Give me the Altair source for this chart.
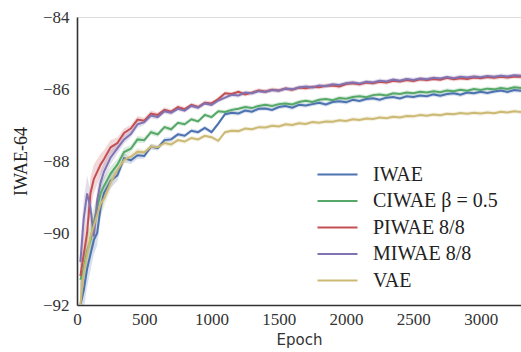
import altair as alt
import pandas as pd

epochs = [25, 50, 75, 100, 125, 150, 175,
          200, 250, 300, 350, 400, 450, 500, 550, 600, 650, 700, 750, 800, 850, 900, 950,
          1000, 1050, 1100, 1150, 1200, 1250, 1300, 1350, 1400, 1450, 1500, 1550, 1600, 1650,
          1700, 1750, 1800, 1850, 1900, 1950, 2000, 2050, 2100, 2150, 2200, 2250, 2300, 2350,
          2400, 2450, 2500, 2550, 2600, 2650, 2700, 2750, 2800, 2850, 2900, 2950, 3000, 3050,
          3100, 3150, 3200, 3250, 3300]

iwae = [-92.0, -91.6, -91.0, -90.6, -90.2, -90.0, -89.3,
        -88.9, -88.55, -88.4, -87.92, -87.98, -87.84, -87.86, -87.6, -87.64, -87.42, -87.4, -87.26, -87.3, -87.16, -87.2, -87.08,
        -87.2, -86.96,
        -86.7, -86.66, -86.68, -86.6, -86.63, -86.55, -86.54, -86.58, -86.5, -86.47,
        -86.52, -86.44, -86.46, -86.42, -86.38, -86.43, -86.36, -86.34, -86.37, -86.3,
        -86.33, -86.28, -86.26, -86.3, -86.24, -86.22, -86.26, -86.2, -86.22, -86.18,
        -86.2, -86.15, -86.19, -86.14, -86.12, -86.16, -86.1, -86.12, -86.08, -86.11,
        -86.07, -86.04, -86.08, -86.03, -86.05]

ciwae = [-91.3, -91.0, -90.5, -90.2, -89.7, -89.3, -88.9,
         -88.7, -88.35, -88.1, -87.75, -87.66, -87.4, -87.42, -87.2, -87.26, -87.06, -87.12, -86.94, -86.98, -86.84, -86.9, -86.72,
         -86.78, -86.62,
         -86.64, -86.58, -86.55, -86.5, -86.53, -86.47, -86.44, -86.47, -86.42, -86.4,
         -86.43, -86.36, -86.33, -86.36, -86.3, -86.28, -86.31, -86.25, -86.27, -86.22,
         -86.2, -86.23, -86.17, -86.15, -86.18, -86.12, -86.14, -86.1, -86.12, -86.08,
         -86.1, -86.06, -86.09, -86.04, -86.06, -86.02, -86.05, -86.0, -86.03, -85.99,
         -86.01, -85.97, -86.0, -85.95, -85.97]

piwae = [-91.2, -90.6, -90.0, -88.9, -88.5, -88.3, -88.1,
         -87.95, -87.62, -87.5, -87.22, -87.1, -86.85, -86.88, -86.68, -86.72, -86.58, -86.63, -86.5, -86.56, -86.44, -86.5, -86.38,
         -86.4, -86.28,
         -86.12, -86.14, -86.08, -86.15, -86.1, -86.04, -86.07, -86.02, -86.04, -85.99,
         -86.02, -85.96, -85.98, -85.94, -85.95, -85.91, -85.9, -85.93, -85.86, -85.84,
         -85.87, -85.82, -85.84, -85.8, -85.82, -85.77, -85.79, -85.75, -85.78, -85.73,
         -85.75, -85.72, -85.74, -85.69, -85.73, -85.7, -85.72, -85.68, -85.7, -85.67,
         -85.69, -85.66, -85.68, -85.65, -85.66]

miwae = [-90.8, -89.6, -88.9, -89.3, -90.1, -89.1, -88.6,
         -88.3, -87.9, -87.65, -87.4, -87.25, -86.98, -86.92, -86.74, -86.78, -86.62, -86.66, -86.55, -86.6, -86.47, -86.52, -86.4,
         -86.44, -86.32,
         -86.24, -86.16, -86.18, -86.1, -86.12, -86.06, -86.08, -86.03, -86.05, -85.99,
         -86.01, -85.96, -85.93, -85.96, -85.9, -85.92, -85.87, -85.89, -85.84, -85.82,
         -85.85, -85.8, -85.82, -85.77, -85.79, -85.74, -85.77, -85.72, -85.75, -85.71,
         -85.73, -85.69, -85.71, -85.67, -85.7, -85.66, -85.68, -85.65, -85.67, -85.64,
         -85.66, -85.63, -85.65, -85.62, -85.63]

vae = [-92.0, -91.1, -90.6, -90.1, -89.8, -89.5, -89.2,
       -89.05, -88.6, -88.25, -87.97, -87.88, -87.74, -87.76, -87.6, -87.62, -87.5, -87.54, -87.42, -87.46, -87.36, -87.4, -87.3,
       -87.34, -87.44,
       -87.2, -87.16, -87.17, -87.1, -87.12, -87.06, -87.07, -87.02, -87.04, -86.98,
       -87.0, -86.95, -86.97, -86.92, -86.94, -86.9, -86.91, -86.87, -86.89, -86.84,
       -86.86, -86.82, -86.83, -86.79, -86.81, -86.77, -86.79, -86.75, -86.76, -86.72,
       -86.74, -86.71, -86.73, -86.69, -86.7, -86.67, -86.69, -86.66, -86.68, -86.65,
       -86.67, -86.63, -86.65, -86.62, -86.64]

# half-width of the shaded band around each curve
band = [0.6, 0.55, 0.5, 0.45, 0.4, 0.35, 0.3,
        0.25, 0.2, 0.15, 0.12, 0.1, 0.1, 0.08, 0.08, 0.07, 0.07, 0.07, 0.06, 0.06, 0.06, 0.06, 0.06,
        0.06, 0.06, 0.06, 0.06, 0.06, 0.06, 0.06, 0.06, 0.06, 0.06, 0.06, 0.06, 0.06, 0.06,
        0.06, 0.06, 0.06, 0.06, 0.06, 0.06, 0.06, 0.06, 0.06, 0.06, 0.06, 0.06, 0.06, 0.06,
        0.06, 0.06, 0.06, 0.06, 0.06, 0.06, 0.06, 0.06, 0.06, 0.06, 0.06, 0.06, 0.06, 0.06,
        0.06, 0.06, 0.06, 0.06, 0.06]

names = ["IWAE", "CIWAE β = 0.5", "PIWAE 8/8", "MIWAE 8/8", "VAE"]
colors = ["#4C72B0", "#55A868", "#C44E52", "#8172B2", "#CCB974"]
series = [iwae, ciwae, piwae, miwae, vae]

rows = []
for name, vals in zip(names, series):
    for e, v, b in zip(epochs, vals, band):
        rows.append({"epoch": e, "value": v, "lo": v - b, "hi": v + b, "method": name})
df = pd.DataFrame(rows)

xsc = alt.Scale(domain=[0, 3300], nice=False, zero=False)
ysc = alt.Scale(domain=[-92, -84], nice=False, zero=False)

legend = alt.Legend(title=None, orient="none", legendX=249, legendY=146,
                    symbolType="M-2,0H2", symbolSize=400, symbolStrokeWidth=2.2,
                    symbolOpacity=1, symbolFillColor="transparent",
                    labelFont="Liberation Serif", labelFontSize=20,
                    labelColor="#222", rowPadding=4.5, labelOffset=24)
color = alt.Color("method:N", scale=alt.Scale(domain=names, range=colors), legend=legend)

base = alt.Chart(df)

bands = base.mark_area(opacity=0.22, clip=True).encode(
    x=alt.X("epoch:Q", scale=xsc),
    y=alt.Y("lo:Q", scale=ysc),
    y2="hi:Q",
    color=color,
)

lines = base.mark_line(strokeWidth=2, clip=True).encode(
    x=alt.X("epoch:Q", scale=xsc,
            axis=alt.Axis(title="Epoch", values=[0, 500, 1000, 1500, 2000, 2500, 3000],
                          format="d", grid=False, ticks=False, labelPadding=6,
                          labelFont="Liberation Serif", labelFontSize=17, labelColor="#333",
                          titleFont="DejaVu Sans", titleFontSize=15, titleFontWeight="normal",
                          titleColor="#333", titlePadding=5,
                          domainColor="#333", domainWidth=1.6, labelFlush=False)),
    y=alt.Y("value:Q", scale=ysc,
            axis=alt.Axis(title="IWAE-64", values=[-92, -90, -88, -86, -84],
                          grid=False, ticks=False, labelPadding=8,
                          labelFont="Liberation Serif", labelFontSize=17, labelColor="#333",
                          titleFont="Liberation Serif", titleFontSize=18, titleFontWeight="normal",
                          titleColor="#222", titlePadding=12,
                          domainColor="#333", domainWidth=1.6)),
    color=color,
)

chart = alt.layer(bands, lines).properties(
    width=444, height=288,
    padding={"left": 77, "top": 17, "right": 0, "bottom": 47},
    autosize="none",
).configure_view(stroke=None).configure(background="white")

chart.save("out.html", embed_options={"renderer": "svg", "actions": False})
